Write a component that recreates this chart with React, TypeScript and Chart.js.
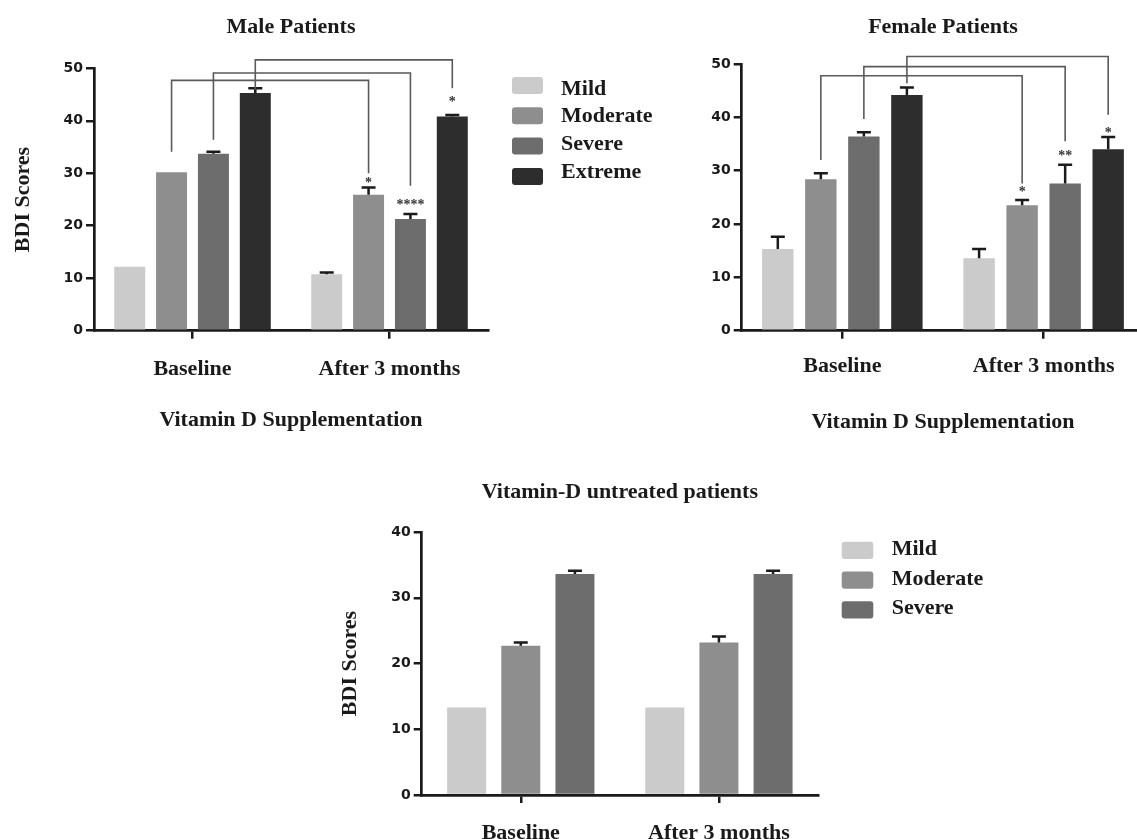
import React, { useEffect, useRef } from "react";
import { Chart, registerables } from "chart.js";

Chart.register(...registerables);

const SERIF = '"Liberation Serif", "Times New Roman", serif';
const SANS = '"DejaVu Sans", "Liberation Sans", sans-serif';
const INK = "#1a1a1a";

// ---------- shared ----------
const categories = ["Baseline", "After 3 months"];
const severityLabels = ["Mild", "Moderate", "Severe", "Extreme"];
const severityColors = ["#cbcbcb", "#8e8e8e", "#6d6d6d", "#2d2d2d"];

// ---------- Male patients ----------
const maleMild = [12.2, 10.75];
const maleMildErr = [0, 0.35];
const maleModerate = [30.2, 25.9];
const maleModerateErr = [0, 1.4];
const maleSevere = [33.7, 21.3];
const maleSevereErr = [0.4, 0.95];
const maleExtreme = [45.3, 40.8];
const maleExtremeErr = [0.9, 0.3];

const maleBracketSeries = [1, 2, 3];
const maleBracketTop = [47.7, 49.1, 51.6];
const maleBracketLeftEnd = [34.1, 36.4, 45.9];
const maleBracketRightEnd = [30.0, 27.6, 46.2];
const maleStarY = [28.7, 24.4, 44.0];
const maleStarText = ["*", "****", "*"];

// ---------- Female patients ----------
const femaleMild = [15.3, 13.6];
const femaleMildErr = [2.3, 1.7];
const femaleModerate = [28.4, 23.5];
const femaleModerateErr = [1.1, 1.0];
const femaleSevere = [36.4, 27.6];
const femaleSevereErr = [0.8, 3.5];
const femaleExtreme = [44.2, 34.0];
const femaleExtremeErr = [1.4, 2.3];

const femaleBracketSeries = [1, 2, 3];
const femaleBracketTop = [47.8, 49.5, 51.4];
const femaleBracketLeftEnd = [32.0, 39.7, 46.4];
const femaleBracketRightEnd = [27.6, 35.5, 40.5];
const femaleStarY = [26.4, 33.3, 37.5];
const femaleStarText = ["*", "**", "*"];

// ---------- Vitamin-D untreated ----------
const untreatedMild = [13.3, 13.3];
const untreatedMildErr = [0, 0];
const untreatedModerate = [22.7, 23.2];
const untreatedModerateErr = [0.5, 0.9];
const untreatedSevere = [33.6, 33.6];
const untreatedSevereErr = [0.5, 0.5];

type Series = { label: string; color: string; data: number[]; err: number[] };
type Bracket = { series: number; top: number; leftEnd: number; rightEnd: number; starY: number; star: string };

function brackets(series: number[], top: number[], l: number[], r: number[], s: number[], t: string[]): Bracket[] {
  return series.map((sr, i) => ({ series: sr, top: top[i], leftEnd: l[i], rightEnd: r[i], starY: s[i], star: t[i] }));
}

const maleSeries: Series[] = [
  { label: severityLabels[0], color: severityColors[0], data: maleMild, err: maleMildErr },
  { label: severityLabels[1], color: severityColors[1], data: maleModerate, err: maleModerateErr },
  { label: severityLabels[2], color: severityColors[2], data: maleSevere, err: maleSevereErr },
  { label: severityLabels[3], color: severityColors[3], data: maleExtreme, err: maleExtremeErr },
];
const femaleSeries: Series[] = [
  { label: severityLabels[0], color: severityColors[0], data: femaleMild, err: femaleMildErr },
  { label: severityLabels[1], color: severityColors[1], data: femaleModerate, err: femaleModerateErr },
  { label: severityLabels[2], color: severityColors[2], data: femaleSevere, err: femaleSevereErr },
  { label: severityLabels[3], color: severityColors[3], data: femaleExtreme, err: femaleExtremeErr },
];
const untreatedSeries: Series[] = [
  { label: severityLabels[0], color: severityColors[0], data: untreatedMild, err: untreatedMildErr },
  { label: severityLabels[1], color: severityColors[1], data: untreatedModerate, err: untreatedModerateErr },
  { label: severityLabels[2], color: severityColors[2], data: untreatedSevere, err: untreatedSevereErr },
];

type Legend = {
  boxX: number; boxW: number; boxH: number; boxY0: number; boxPitch: number;
  textX: number; textY0: number; textPitch: number;
};

type Spec = {
  left: number; top: number; width: number; height: number;
  areaLeft: number; areaRight: number; areaTop: number; areaBottom: number;
  title: string; titleCenterY: number;
  yMax: number; yTitle?: string; yTitleCenterX?: number;
  xLabelCenterY: number; xScaleHeight: number; xTitle?: string; xTitleCenterY?: number;
  catPct: number; barPct: number;
  series: Series[]; brackets: Bracket[]; legend?: Legend;
};

const FS = 22;
const LH = FS * 1.2;

function makePlugin(spec: Spec) {
  return {
    id: "marks",
    afterDatasetsDraw(chart: any) {
      const ctx: CanvasRenderingContext2D = chart.ctx;
      const y = chart.scales.y;
      ctx.save();
      // error bars (upper only)
      spec.series.forEach((s, i) => {
        const meta = chart.getDatasetMeta(i);
        meta.data.forEach((bar: any, j: number) => {
          const e = s.err[j];
          if (!e) return;
          const yTop = y.getPixelForValue(s.data[j] + e);
          ctx.strokeStyle = INK;
          ctx.lineWidth = 2.5;
          ctx.beginPath();
          ctx.moveTo(bar.x, bar.y);
          ctx.lineTo(bar.x, yTop);
          ctx.moveTo(bar.x - 7, yTop);
          ctx.lineTo(bar.x + 7, yTop);
          ctx.stroke();
        });
      });
      // significance brackets
      spec.brackets.forEach((b) => {
        const meta = chart.getDatasetMeta(b.series);
        const xl = meta.data[0].x;
        const xr = meta.data[1].x;
        ctx.strokeStyle = "#5a5a5a";
        ctx.lineWidth = 1.6;
        ctx.beginPath();
        ctx.moveTo(xl, y.getPixelForValue(b.leftEnd));
        ctx.lineTo(xl, y.getPixelForValue(b.top));
        ctx.lineTo(xr, y.getPixelForValue(b.top));
        ctx.lineTo(xr, y.getPixelForValue(b.rightEnd));
        ctx.stroke();
        ctx.fillStyle = "#333333";
        ctx.font = `bold 14px ${SERIF}`;
        ctx.textAlign = "center";
        ctx.textBaseline = "alphabetic";
        ctx.fillText(b.star, xr, y.getPixelForValue(b.starY) + 6.5);
      });
      ctx.restore();
    },
    afterDraw(chart: any) {
      const lg = spec.legend;
      if (!lg) return;
      const ctx: CanvasRenderingContext2D = chart.ctx;
      ctx.save();
      chart.data.datasets.forEach((ds: any, i: number) => {
        const cy = lg.boxY0 + i * lg.boxPitch;
        ctx.fillStyle = ds.backgroundColor;
        ctx.beginPath();
        (ctx as any).roundRect(lg.boxX, cy - lg.boxH / 2, lg.boxW, lg.boxH, 3);
        ctx.fill();
        ctx.fillStyle = INK;
        ctx.font = `bold ${FS}px ${SERIF}`;
        ctx.textAlign = "left";
        ctx.textBaseline = "middle";
        ctx.fillText(ds.label, lg.textX, lg.textY0 + i * lg.textPitch);
      });
      ctx.restore();
    },
  };
}

function buildConfig(spec: Spec): any {
  const serifFont = { family: SERIF, size: FS, weight: "bold" as const, lineHeight: 1.2 };
  const titlePadTop = spec.titleCenterY - LH / 2;
  return {
    type: "bar",
    data: {
      labels: categories,
      datasets: spec.series.map((s) => ({
        label: s.label,
        data: s.data,
        backgroundColor: s.color,
        borderWidth: 0,
        categoryPercentage: spec.catPct,
        barPercentage: spec.barPct,
      })),
    },
    options: {
      animation: false,
      responsive: false,
      maintainAspectRatio: false,
      devicePixelRatio: 1,
      layout: {
        padding: {
          left: 0,
          top: 0,
          right: spec.width - spec.areaRight,
          bottom: spec.height - spec.areaBottom - spec.xScaleHeight,
        },
      },
      plugins: {
        legend: { display: false },
        tooltip: { enabled: false },
        title: {
          display: true,
          text: spec.title,
          fullSize: false,
          color: INK,
          font: serifFont,
          padding: { top: titlePadTop, bottom: spec.areaTop - titlePadTop - LH },
        },
      },
      scales: {
        x: {
          type: "category",
          offset: true,
          grid: { offset: false, drawOnChartArea: false, drawTicks: true, tickLength: 8, color: INK, lineWidth: 2.5 },
          border: { display: true, color: INK, width: 2.7 },
          ticks: {
            color: INK,
            font: serifFont,
            padding: spec.xLabelCenterY - spec.areaBottom - 8 - LH / 2,
            maxRotation: 0,
            autoSkip: false,
          },
          title: spec.xTitle
            ? {
                display: true,
                text: spec.xTitle,
                color: INK,
                font: serifFont,
                padding: { top: 0, bottom: spec.areaBottom + spec.xScaleHeight - (spec.xTitleCenterY || 0) - LH / 2 },
              }
            : { display: false },
          afterFit: (s: any) => {
            s.height = spec.xScaleHeight;
          },
        },
        y: {
          min: 0,
          max: spec.yMax,
          ticks: { stepSize: 10, color: INK, font: { family: SANS, size: 14, weight: "bold" }, padding: 3 },
          grid: { drawOnChartArea: false, drawTicks: true, tickLength: 8, color: INK, lineWidth: 2.5 },
          border: { display: true, color: INK, width: 2.7 },
          title: spec.yTitle
            ? {
                display: true,
                text: spec.yTitle,
                color: INK,
                font: serifFont,
                padding: { top: (spec.yTitleCenterX || 0) - LH / 2, bottom: 0 },
              }
            : { display: false },
          afterFit: (s: any) => {
            s.width = spec.areaLeft;
          },
        },
      },
    },
    plugins: [makePlugin(spec)],
  };
}

const maleSpec: Spec = {
  left: 0, top: 0, width: 660, height: 436,
  areaLeft: 94, areaRight: 488, areaTop: 68.3, areaBottom: 330.7,
  title: "Male Patients", titleCenterY: 27,
  yMax: 50, yTitle: "BDI Scores", yTitleCenterX: 23,
  xLabelCenterY: 369, xScaleHeight: 103, xTitle: "Vitamin D Supplementation", xTitleCenterY: 420,
  catPct: 0.85, barPct: 0.74,
  series: maleSeries,
  brackets: brackets(maleBracketSeries, maleBracketTop, maleBracketLeftEnd, maleBracketRightEnd, maleStarY, maleStarText),
  legend: { boxX: 512, boxW: 31, boxH: 17, boxY0: 85.5, boxPitch: 30.3, textX: 561, textY0: 89, textPitch: 27.8 },
};

const femaleSpec: Spec = {
  left: 600, top: 0, width: 600, height: 440,
  areaLeft: 141.7, areaRight: 544.3, areaTop: 64, areaBottom: 330.7,
  title: "Female Patients", titleCenterY: 27,
  yMax: 50,
  xLabelCenterY: 366, xScaleHeight: 105, xTitle: "Vitamin D Supplementation", xTitleCenterY: 422,
  catPct: 0.855, barPct: 0.73,
  series: femaleSeries,
  brackets: brackets(femaleBracketSeries, femaleBracketTop, femaleBracketLeftEnd, femaleBracketRightEnd, femaleStarY, femaleStarText),
};

const untreatedSpec: Spec = {
  left: 300, top: 440, width: 720, height: 399,
  areaLeft: 121.7, areaRight: 518, areaTop: 92, areaBottom: 355,
  title: "Vitamin-D untreated patients", titleCenterY: 52,
  yMax: 40, yTitle: "BDI Scores", yTitleCenterX: 50,
  xLabelCenterY: 393, xScaleHeight: 44,
  catPct: 0.82, barPct: 0.72,
  series: untreatedSeries,
  brackets: [],
  legend: { boxX: 541.7, boxW: 31.6, boxH: 17.3, boxY0: 110.4, boxPitch: 29.7, textX: 591.7, textY0: 109.5, textPitch: 29.5 },
};

function Panel({ spec }: { spec: Spec }) {
  const ref = useRef<HTMLCanvasElement>(null);
  useEffect(() => {
    if (!ref.current) return;
    const chart = new Chart(ref.current, buildConfig(spec));
    return () => chart.destroy();
  }, [spec]);
  return (
    <canvas
      ref={ref}
      width={spec.width}
      height={spec.height}
      style={{ position: "absolute", left: spec.left, top: spec.top, width: spec.width, height: spec.height }}
    />
  );
}

export default function App() {
  return (
    <div
      style={{
        position: "absolute",
        left: 0,
        top: 0,
        width: 1137,
        height: 839,
        overflow: "hidden",
        background: "#ffffff",
      }}
    >
      <Panel spec={maleSpec} />
      <Panel spec={femaleSpec} />
      <Panel spec={untreatedSpec} />
    </div>
  );
}
